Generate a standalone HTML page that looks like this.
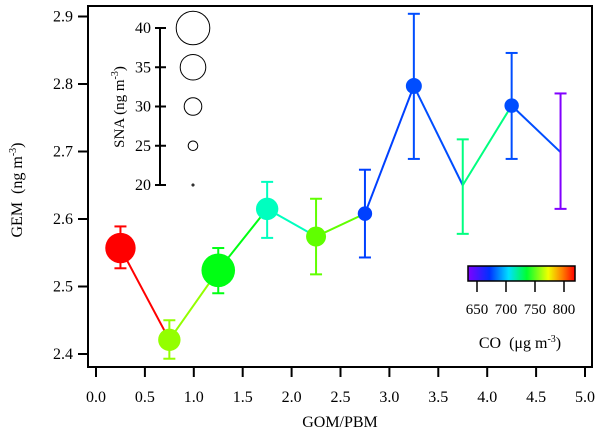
<!DOCTYPE html>
<html><head><meta charset="utf-8"><style>
body{margin:0;background:#fff;}
svg text{font-family:"Liberation Serif","DejaVu Serif","Times New Roman",serif !important;fill:#000;}
</style></head><body>
<svg id="c" width="600" height="434" xmlns="http://www.w3.org/2000/svg">
<defs><linearGradient id="cg" x1="0" x2="1" y1="0" y2="0">
<stop offset="0" stop-color="#8000ff"/><stop offset="0.2" stop-color="#0030ff"/><stop offset="0.38" stop-color="#00e0ff"/><stop offset="0.55" stop-color="#00ff30"/><stop offset="0.75" stop-color="#f0ff00"/><stop offset="0.88" stop-color="#ff8000"/><stop offset="1" stop-color="#ff0000"/></linearGradient></defs>
</svg>
<script>
const categories=[0.25,0.75,1.25,1.75,2.25,2.75,3.25,3.75,4.25,4.75];
const gem=[2.557,2.421,2.524,2.615,2.574,2.608,2.797,2.650,2.768,2.699];
const errHi=[2.589,2.450,2.557,2.655,2.630,2.673,2.904,2.718,2.846,2.786];
const errLo=[2.527,2.393,2.490,2.572,2.518,2.543,2.689,2.578,2.689,2.615];
const co=[810,753,727,700,745,660,662,710,662,630];
const sna=[38,33,40,33,31.5,28,29,19,28,20];
const xTicks=[0,0.5,1,1.5,2,2.5,3,3.5,4,4.5,5];
const yTicks=[2.4,2.5,2.6,2.7,2.8,2.9];
const snaTicks=[20,25,30,35,40];
const coTicks=[650,700,750,800];
const svg=document.getElementById('c');const NS='http://www.w3.org/2000/svg';
const X=v=>96+v*97.8, Y=v=>354-(v-2.4)*675;
const R=s=>Math.max(0,0.8*(s-19));
const SY=s=>185-(s-20)*7.85;
const CX=c=>477+(c-650)*(87/150);
function colorOf(c){const t=Math.min(1,Math.max(0,(810-c)/(810-630)));return `hsl(${t*270},100%,50%)`;}
function mk(tag,attrs,name,inter){const e=document.createElementNS(NS,tag);for(const k in attrs)e.setAttribute(k,attrs[k]);


svg.appendChild(e);return e;}
function txt(x,y,s,name,extra){const t=mk('text',Object.assign({x:x,y:y,'font-size':16,'text-anchor':'middle',style:'font-family:"Liberation Serif","DejaVu Serif",serif'},extra||{}),name,false);t.innerHTML=s;return t;}
mk('rect',{x:88,y:6,width:504,height:361,fill:'none',stroke:'#000','stroke-width':2},'plot-frame',false);
xTicks.forEach(v=>{mk('line',{x1:X(v),x2:X(v),y1:367,y2:377,stroke:'#000','stroke-width':2},'x-tick',false);
txt(X(v),402,v.toFixed(1),'x-tick-label');});
yTicks.forEach(v=>{mk('line',{x1:78,x2:88,y1:Y(v),y2:Y(v),stroke:'#000','stroke-width':2},'y-tick',false);
txt(73,Y(v)+5,v.toFixed(1),'y-tick-label',{'text-anchor':'end'});});
txt(340,427,'GOM/PBM','x-axis-title');
txt(0,0,'GEM&#160;&#160;(ng m<tspan font-size="10" dy="-6">-3</tspan><tspan dy="6">)</tspan>','y-axis-title',{transform:'translate(22,190) rotate(-90)'});
for(let i=0;i<categories.length-1;i++)mk('line',{x1:X(categories[i]),y1:Y(gem[i]),x2:X(categories[i+1]),y2:Y(gem[i+1]),stroke:colorOf(co[i]),'stroke-width':2},'series-line-segment',false);
categories.forEach((c,i)=>{const col=colorOf(co[i]);const x=X(c);
mk('line',{x1:x,x2:x,y1:Y(errHi[i]),y2:Y(errLo[i]),stroke:col,'stroke-width':2},'error-bar',false);
mk('line',{x1:x-6,x2:x+6,y1:Y(errHi[i]),y2:Y(errHi[i]),stroke:col,'stroke-width':2},'error-cap-high',false);
mk('line',{x1:x-6,x2:x+6,y1:Y(errLo[i]),y2:Y(errLo[i]),stroke:col,'stroke-width':2},'error-cap-low',false);
const r=R(sna[i]);if(r>0)mk('circle',{cx:x,cy:Y(gem[i]),r:r,fill:col},'data-point',true);});
mk('line',{x1:160,x2:160,y1:SY(20),y2:SY(40),stroke:'#000','stroke-width':2},'size-legend-axis',false);
snaTicks.forEach(s=>{mk('line',{x1:155,x2:166,y1:SY(s),y2:SY(s),stroke:'#000','stroke-width':2},'size-legend-tick',false);
txt(151,SY(s)+5,s,'size-legend-label',{'text-anchor':'end'});
mk('circle',{cx:193,cy:SY(s),r:Math.max(1,R(s)),fill:'none',stroke:'#000','stroke-width':1},'size-legend-circle',false);});
txt(0,0,'SNA (ng m<tspan font-size="10" dy="-6">-3</tspan><tspan dy="6">)</tspan>','size-legend-title',{transform:'translate(124,107) rotate(-90)','font-size':15});
mk('rect',{x:468,y:266,width:107,height:15,fill:'url(#cg)',stroke:'#000','stroke-width':1.5},'color-bar',false);
coTicks.forEach(c=>{mk('line',{x1:CX(c),x2:CX(c),y1:281,y2:292,stroke:'#000','stroke-width':1.5},'color-bar-tick',false);
txt(CX(c),314,c,'color-bar-label',{'font-size':15});});
txt(520,348,'CO&#160;&#160;(μg m<tspan font-size="10" dy="-6">-3</tspan><tspan dy="6">)</tspan>','color-bar-title',{'font-size':16});
</script>
</body></html>
